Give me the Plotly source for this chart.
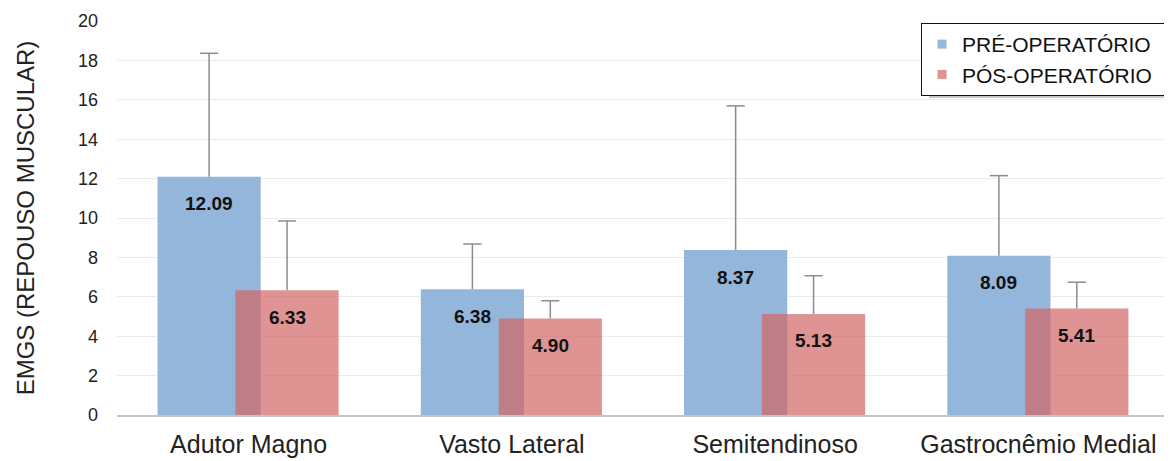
import plotly.graph_objects as go

categories = ["Adutor Magno", "Vasto Lateral", "Semitendinoso", "Gastrocnêmio Medial"]
pre_values = [12.09, 6.38, 8.37, 8.09]
pre_errors = [6.27, 2.30, 7.32, 4.06]
pos_values = [6.33, 4.90, 5.13, 5.41]
pos_errors = [3.52, 0.90, 1.94, 1.33]
series_names = ["PRÉ-OPERATÓRIO", "PÓS-OPERATÓRIO"]
y_title = "EMGS (REPOUSO MUSCULAR)"

FONT = "Liberation Sans, Arial, sans-serif"
BLUE = "#94B6DB"
PINK = "rgba(209,101,101,0.7)"
PINK_LEG = "#DF9393"
ERR = "#8C8C8C"

BAR_W = 0.392
PRE_OFF = -0.346
POS_OFF = -0.05

xs = list(range(len(categories)))

fig = go.Figure()

def add_series(values, errors, color, off):
    fig.add_trace(go.Bar(
        x=xs, y=values, width=BAR_W, offset=off,
        marker=dict(color=color, line=dict(width=0)),
        error_y=dict(type="data", symmetric=False, array=errors,
                     arrayminus=[0] * len(values), width=0,
                     thickness=1.5, color=ERR),
        showlegend=False, hoverinfo="skip",
    ))
    centers = [x + off + BAR_W / 2 for x in xs]
    fig.add_trace(go.Scatter(
        x=centers, y=[v + e for v, e in zip(values, errors)],
        mode="markers",
        marker=dict(symbol="line-ew", size=13, line=dict(width=1.5, color=ERR)),
        showlegend=False, hoverinfo="skip",
    ))
    for c, v in zip(centers, values):
        fig.add_annotation(
            x=c, y=v, xref="x", yref="y", text=f"<b>{v:.2f}</b>",
            showarrow=False, yanchor="middle", yshift=-27,
            font=dict(family=FONT, size=19, color="#111"),
        )

add_series(pre_values, pre_errors, BLUE, PRE_OFF)
add_series(pos_values, pos_errors, PINK, POS_OFF)

for name, col in zip(series_names, [BLUE, PINK_LEG]):
    fig.add_trace(go.Scatter(
        x=[None], y=[None], mode="markers", name=name + "\u00a0\u00a0",
        marker=dict(symbol="square", size=9, color=col),
    ))

# plot area in page pixels (page body adds an 8px offset)
PL, PR, PT, PB = 117, 1170, 21, 415
pw, ph = PR - PL, PB - PT

# soft shadow behind the legend box
fig.add_shape(
    type="rect", xref="paper", yref="paper", layer="below",
    x0=(929 - PL) / pw, x1=(1171 - PL) / pw,
    y0=(PB - 98) / ph, y1=1 - 5 / ph,
    fillcolor="#C9C9C9", line=dict(width=0),
)

fig.update_layout(
    width=1164, height=453,
    margin=dict(l=109, r=2, t=13, b=46),
    barmode="overlay",
    plot_bgcolor="white", paper_bgcolor="white",
    font=dict(family=FONT, color="#222"),
    legend=dict(
        x=1, y=1 - 2 / ph, xanchor="right", yanchor="top",
        bgcolor="white", bordercolor="#111", borderwidth=1,
        font=dict(family=FONT, size=21, color="#111"),
        itemwidth=30, tracegroupgap=0,
    ),
    xaxis=dict(
        range=[-0.5, len(categories) - 0.5],
        tickmode="array", tickvals=xs, ticktext=categories,
        tickfont=dict(family=FONT, size=25, color="#222"),
        showgrid=False, zeroline=False,
        showline=True, linecolor="#C4C4C4", linewidth=1.5,
        ticks="", ticklabelstandoff=6, automargin=False,
    ),
    yaxis=dict(
        range=[0, 20], dtick=2, tick0=0,
        tickfont=dict(family=FONT, size=18, color="#222"),
        showgrid=True, gridcolor="#ECECEC", gridwidth=1,
        zeroline=False, showline=False, ticks="",
        ticklabelstandoff=18, automargin=False,
        title=dict(text=y_title, standoff=36,
                   font=dict(family=FONT, size=24, color="#222")),
    ),
)

fig.write_html("out.html")
